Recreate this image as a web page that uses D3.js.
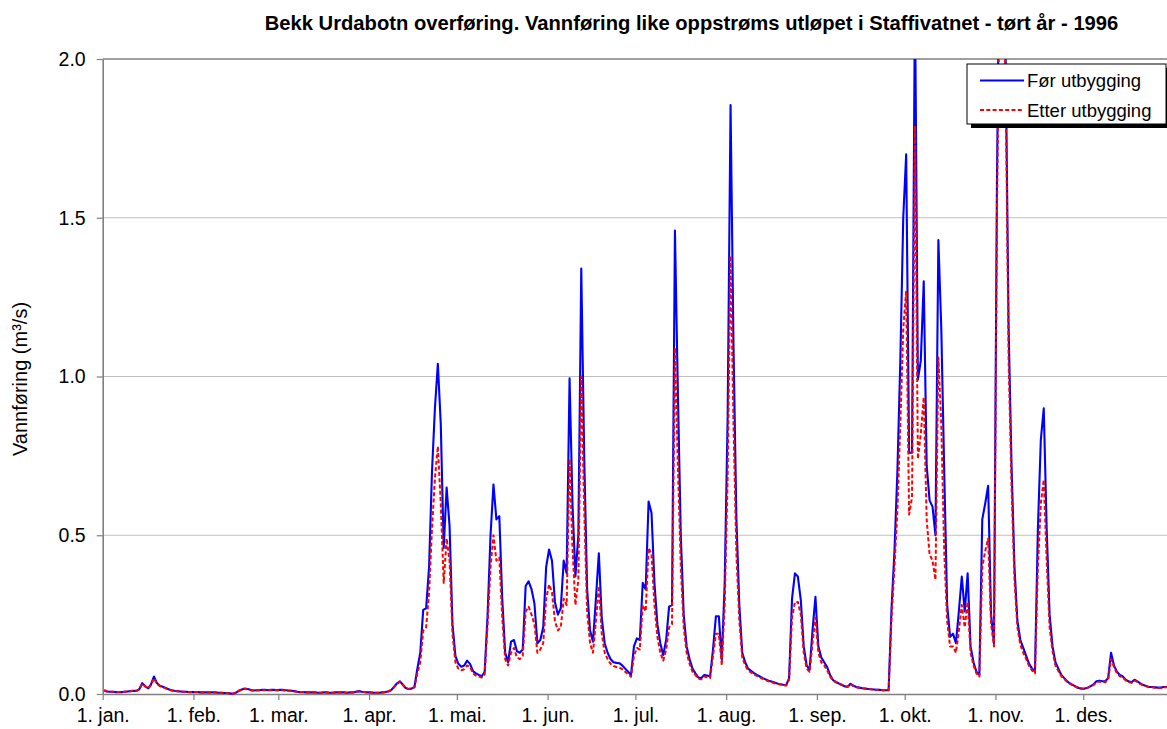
<!DOCTYPE html>
<html>
<head>
<meta charset="utf-8">
<script src="https://cdn.jsdelivr.net/npm/d3@7"></script>
<style>
  html, body { margin: 0; padding: 0; background: #fff; }
  svg { display: block; font-family: "Liberation Sans", Arial, sans-serif; }
</style>
</head>
<body>
<svg id="chart" width="1167" height="729"></svg>
<script>
// Chart text
const chartTitle = "Bekk Urdabotn overføring. Vannføring like oppstrøms utløpet i Staffivatnet - tørt år - 1996";
const yAxisLabel = "Vannføring (m³/s)";
const seriesNames = ["Før utbygging", "Etter utbygging"];
const monthLabels = ["jan.", "feb.", "mar.", "apr.", "mai.", "jun.", "jul.", "aug.", "sep.", "okt.", "nov.", "des."];
const yTickValues = [0, 0.5, 1.0, 1.5, 2.0];

// Daily discharge (m3/s), 1996, one row per month – before regulation
const forUtbygging = [
  0.012,0.008,0.007,0.007,0.006,0.006,0.006,0.007,0.008,0.009,0.010,0.010,0.015,0.034,0.025,0.018,0.030,0.055,0.035,0.026,0.023,0.019,0.015,0.012,0.010,0.009,0.008,0.007,0.007,0.006,0.006,
  0.006,0.006,0.005,0.005,0.005,0.005,0.005,0.005,0.004,0.004,0.003,0.003,0.002,0.001,0.004,0.010,0.014,0.017,0.016,0.013,0.011,0.012,0.012,0.013,0.013,0.012,0.013,0.013,0.012,
  0.013,0.013,0.012,0.011,0.010,0.009,0.007,0.006,0.006,0.005,0.005,0.005,0.005,0.004,0.004,0.005,0.005,0.004,0.004,0.005,0.005,0.005,0.005,0.004,0.005,0.005,0.007,0.009,0.007,0.006,0.005,
  0.005,0.004,0.004,0.004,0.005,0.006,0.008,0.012,0.022,0.033,0.040,0.030,0.019,0.016,0.017,0.022,0.080,0.130,0.265,0.270,0.400,0.700,0.900,1.040,0.850,0.460,0.650,0.530,0.220,0.120,
  0.095,0.086,0.090,0.105,0.095,0.072,0.065,0.060,0.056,0.070,0.250,0.500,0.660,0.550,0.560,0.300,0.130,0.100,0.165,0.170,0.135,0.130,0.140,0.340,0.355,0.330,0.285,0.160,0.170,0.210,0.400,
  0.455,0.420,0.290,0.250,0.270,0.420,0.380,0.994,0.600,0.370,0.500,1.340,0.750,0.330,0.200,0.165,0.300,0.443,0.240,0.160,0.130,0.110,0.100,0.098,0.097,0.090,0.080,0.070,0.060,0.150,
  0.175,0.170,0.350,0.330,0.606,0.570,0.350,0.220,0.160,0.123,0.170,0.275,0.280,1.460,0.950,0.500,0.250,0.150,0.110,0.080,0.065,0.052,0.050,0.060,0.058,0.055,0.140,0.245,0.245,0.107,0.350,
  0.870,1.855,1.100,0.550,0.280,0.130,0.100,0.080,0.073,0.066,0.060,0.055,0.050,0.046,0.042,0.039,0.036,0.033,0.031,0.029,0.028,0.050,0.300,0.380,0.370,0.296,0.150,0.090,0.076,0.200,0.306,
  0.150,0.115,0.100,0.085,0.060,0.044,0.038,0.033,0.029,0.024,0.023,0.032,0.026,0.022,0.020,0.018,0.017,0.016,0.015,0.014,0.013,0.013,0.012,0.012,0.012,0.270,0.450,0.700,1.050,1.500,
  1.700,0.760,0.760,2.200,0.990,1.050,1.300,0.720,0.610,0.590,0.500,1.430,1.150,0.700,0.280,0.180,0.190,0.160,0.260,0.370,0.260,0.380,0.150,0.100,0.070,0.060,0.550,0.600,0.656,0.250,0.160,
  1.600,2.500,2.600,2.000,1.150,0.720,0.400,0.230,0.170,0.145,0.120,0.095,0.080,0.070,0.520,0.800,0.900,0.520,0.250,0.150,0.100,0.080,0.060,0.050,0.040,0.033,0.028,0.023,0.019,0.017,
  0.017,0.020,0.025,0.030,0.040,0.042,0.040,0.040,0.050,0.130,0.090,0.070,0.060,0.055,0.045,0.040,0.037,0.045,0.040,0.033,0.028,0.025,0.022,0.022,0.021,0.020,0.020,0.022,0.022,0.021,0.020
];

// Daily discharge (m3/s), 1996, one row per month – after regulation
const etterUtbygging = [
  0.011,0.008,0.007,0.007,0.006,0.006,0.006,0.007,0.008,0.009,0.010,0.010,0.014,0.032,0.024,0.017,0.028,0.050,0.033,0.025,0.022,0.018,0.014,0.011,0.010,0.009,0.008,0.007,0.007,0.006,0.006,
  0.006,0.006,0.005,0.005,0.005,0.005,0.005,0.005,0.004,0.004,0.003,0.003,0.002,0.001,0.004,0.010,0.013,0.016,0.015,0.012,0.011,0.011,0.012,0.012,0.012,0.012,0.012,0.012,0.012,
  0.012,0.012,0.011,0.010,0.010,0.008,0.007,0.006,0.006,0.005,0.005,0.005,0.005,0.004,0.004,0.005,0.005,0.004,0.004,0.005,0.005,0.005,0.005,0.004,0.005,0.005,0.007,0.008,0.007,0.006,0.005,
  0.005,0.004,0.004,0.004,0.005,0.006,0.008,0.012,0.021,0.031,0.038,0.029,0.018,0.016,0.017,0.021,0.065,0.100,0.200,0.210,0.320,0.520,0.680,0.780,0.600,0.350,0.490,0.420,0.190,0.100,
  0.080,0.075,0.078,0.090,0.085,0.065,0.058,0.055,0.052,0.062,0.220,0.400,0.500,0.420,0.430,0.240,0.110,0.090,0.130,0.145,0.115,0.110,0.120,0.260,0.275,0.250,0.220,0.130,0.140,0.160,0.300,
  0.345,0.320,0.230,0.200,0.210,0.300,0.280,0.740,0.460,0.280,0.360,1.000,0.580,0.260,0.160,0.130,0.230,0.340,0.190,0.130,0.110,0.095,0.088,0.085,0.083,0.078,0.070,0.062,0.054,0.120,
  0.145,0.140,0.280,0.260,0.460,0.440,0.280,0.180,0.130,0.105,0.140,0.210,0.220,1.090,0.720,0.400,0.210,0.130,0.095,0.070,0.060,0.048,0.046,0.055,0.053,0.050,0.120,0.190,0.190,0.090,0.280,
  0.680,1.380,0.850,0.440,0.230,0.115,0.090,0.074,0.068,0.062,0.057,0.052,0.048,0.044,0.040,0.037,0.034,0.032,0.030,0.028,0.027,0.045,0.240,0.290,0.290,0.250,0.130,0.080,0.070,0.160,0.240,
  0.130,0.100,0.090,0.075,0.055,0.042,0.037,0.032,0.028,0.024,0.023,0.030,0.025,0.021,0.019,0.018,0.017,0.016,0.015,0.014,0.013,0.013,0.012,0.012,0.012,0.240,0.400,0.580,0.850,1.150,
  1.270,0.565,0.620,1.790,0.740,0.820,0.935,0.550,0.440,0.420,0.360,1.060,0.850,0.450,0.230,0.150,0.150,0.130,0.200,0.280,0.210,0.290,0.130,0.090,0.065,0.055,0.400,0.450,0.490,0.220,0.150,
  1.500,2.300,2.400,1.900,1.050,0.650,0.360,0.210,0.155,0.130,0.110,0.088,0.074,0.065,0.400,0.600,0.675,0.420,0.210,0.135,0.090,0.072,0.056,0.047,0.038,0.032,0.027,0.022,0.018,0.016,
  0.016,0.019,0.024,0.028,0.037,0.039,0.037,0.037,0.045,0.110,0.085,0.065,0.056,0.052,0.043,0.038,0.035,0.042,0.038,0.032,0.027,0.024,0.021,0.021,0.020,0.019,0.019,0.021,0.021,0.020,0.019
];

const svg = d3.select("#chart");

// Plot frame: the year runs a little past the right edge of the canvas
const plot = { left: 102.7, right: 1174, top: 59, bottom: 694 };
const yearStart = new Date(Date.UTC(1996, 0, 1));
const yearEnd = new Date(Date.UTC(1997, 0, 1));
const days = d3.utcDays(yearStart, yearEnd);

const x = d3.scaleUtc().domain([yearStart, yearEnd]).range([plot.left, plot.right]);
const y = d3.scaleLinear().domain([0, 2]).range([plot.bottom, plot.top]);

// Each daily value sits in the middle of its day
const xDay = i => x(d3.utcHour.offset(days[i], 12));

svg.append("rect").attr("width", 1167).attr("height", 729).attr("fill", "#fff");

// Horizontal gridlines
svg.append("g")
  .selectAll("line")
  .data(yTickValues.filter(v => v > 0))
  .join("line")
  .attr("x1", plot.left).attr("x2", plot.right)
  .attr("y1", d => y(d)).attr("y2", d => y(d))
  .attr("stroke", d => d === 2 ? "#808080" : "#c0c0c0")
  .attr("stroke-width", d => d === 2 ? 1.6 : 1.1);

// Axes
const axisColor = "#808080";
const xAxis = svg.append("g")
  .attr("transform", `translate(0,${plot.bottom})`)
  .call(d3.axisBottom(x)
    .tickValues(d3.utcMonths(yearStart, yearEnd))
    .tickFormat(d => `1. ${monthLabels[d.getUTCMonth()]}`)
    .tickSize(6).tickSizeOuter(0).tickPadding(8));

const yAxis = svg.append("g")
  .attr("transform", `translate(${plot.left},0)`)
  .call(d3.axisLeft(y)
    .tickValues(yTickValues)
    .tickFormat(d3.format(".1f"))
    .tickSize(6).tickSizeOuter(0).tickPadding(11));

[xAxis, yAxis].forEach(g => {
  g.select(".domain").attr("stroke", axisColor).attr("stroke-width", 1.6);
  g.selectAll(".tick line").attr("stroke", axisColor).attr("stroke-width", 1.2);
  g.selectAll(".tick text")
    .attr("fill", "#000")
    .style("font-size", "19.5px")
    .style("font-family", "'Liberation Sans', Arial, sans-serif");
});

// Series lines, clipped to the plot area
svg.append("clipPath").attr("id", "plot-clip")
  .append("rect")
  .attr("x", plot.left).attr("y", plot.top)
  .attr("width", plot.right - plot.left).attr("height", plot.bottom - plot.top + 2);

const line = d3.line()
  .x((d, i) => xDay(i))
  .y(d => y(d));

const lines = svg.append("g").attr("clip-path", "url(#plot-clip)");
lines.append("path")
  .datum(forUtbygging)
  .attr("d", line)
  .attr("fill", "none")
  .attr("stroke", "#0000ff")
  .attr("stroke-width", 2.1)
  .attr("stroke-linejoin", "round");
lines.append("path")
  .datum(etterUtbygging)
  .attr("d", line)
  .attr("fill", "none")
  .attr("stroke", "#ff0000")
  .attr("stroke-width", 2)
  .attr("stroke-dasharray", "4,2.3")
  .attr("stroke-linejoin", "round");

// Title
svg.append("text")
  .attr("x", 691.5).attr("y", 30)
  .attr("text-anchor", "middle")
  .style("font-size", "20.2px")
  .style("font-weight", "bold")
  .text(chartTitle);

// Y axis label
svg.append("text")
  .attr("transform", "translate(26.5,379) rotate(-90)")
  .attr("text-anchor", "middle")
  .style("font-size", "20px")
  .text(yAxisLabel);

// Legend with drop shadow
const legend = svg.append("g").attr("transform", "translate(967,64)");
legend.append("rect").attr("x", 4).attr("y", 4).attr("width", 199).attr("height", 60).attr("fill", "#000");
legend.append("rect").attr("width", 199).attr("height", 60).attr("fill", "#fff").attr("stroke", "#000").attr("stroke-width", 1);
const legendItems = [
  { name: seriesNames[0], color: "#0000ff", dash: null },
  { name: seriesNames[1], color: "#ff0000", dash: "4,2.3" }
];
legendItems.forEach((item, i) => {
  const ly = 16.5 + i * 29.5;
  legend.append("line")
    .attr("x1", 13).attr("x2", 57).attr("y1", ly).attr("y2", ly)
    .attr("stroke", item.color).attr("stroke-width", 2)
    .attr("stroke-dasharray", item.dash);
  legend.append("text")
    .attr("x", 60).attr("y", ly + 6.5)
    .style("font-size", "18.5px")
    .text(item.name);
});
</script>
</body>
</html>
